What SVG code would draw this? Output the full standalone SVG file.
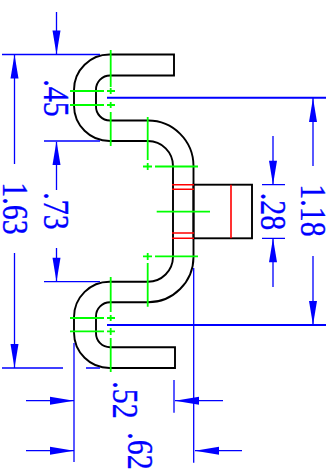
<svg xmlns="http://www.w3.org/2000/svg" width="336" height="470" viewBox="0 0 336 470">
<defs>
<style>
.k{fill:none;stroke:#000;stroke-width:1.9}
.g{fill:none;stroke:#00ff00;stroke-width:1.8}
.r{fill:none;stroke:#ff0000;stroke-width:1.6}
.b{fill:none;stroke:#0000ff;stroke-width:1.3}
.c{fill:none;stroke:#0000ff;stroke-width:2}
.a{fill:#0000ff;stroke:none}
.t{font-family:"Liberation Serif","Times New Roman",serif;font-size:30px;fill:#0000ff;stroke:#0000ff;stroke-width:.3;text-anchor:middle}
</style>
<polygon id="ah" class="a" points="0,0 -24,-4 -24,4"/>
</defs>
<g id="part">
<path class="k" d="M174 54.500H110A35.500 35.500 0 0 0 74 90V105.500A35.500 35.500 0 0 0 110 141H148A25 25 0 0 1 173 166V257A25 25 0 0 1 148 281.700H110A35.500 35.500 0 0 0 74 317V332.500A35.500 35.500 0 0 0 110 368H175V347.300H110A14 14 0 0 1 96 333.300V316.300A14 14 0 0 1 110 302.300H148A45.500 45.500 0 0 0 193.500 257V166A45.500 45.500 0 0 0 148 120.500H110A14 14 0 0 1 96 106V89.500A14 14 0 0 1 110 75.500H174Z"/>
<rect class="k" x="193.500" y="184.700" width="58.500" height="53.600"/>
</g>
<g id="bend-lines">
<path class="r" d="M231 184.700V238.300M172 184.700H194M172 189.300H194M172 233H194M172 238.300H194"/>
</g>
<g id="centerlines">
<path class="g" d="M110.700 50V87M110.700 88V94M110.700 102V108M110.700 112V146M70 91H104M107 91H115M70 105H104M107 105H115"/>
<path class="g" d="M147.700 117V160M147.700 163V170M143 166.500H152M155 166.500H198M156.700 211.700H210M143 256.300H152M155 256.300H198M147.700 253V260M147.700 263V306.700"/>
<path class="g" d="M110.700 277V312M110.700 315V321M110.700 328V335M110.700 338V372M70 318H104M107 318H115M70 331.300H104M107 331.300H115"/>
</g>
<g id="connectors">
<path class="c" d="M107 97.700H326M107 325H326"/>
<path class="b" d="M2 54.500H100M44 141H100M44 281.700H100M2 368H63M86 368H100"/>
<path class="b" d="M14.500 55V164M14.500 253V368M56.500 12V54M56.500 142V190M56.500 248V281M313 98V166M313 256V325M273 136V184M273 239V287M262 184.700H285M262 238.300H285"/>
<path class="b" d="M74 343V462M193.700 268V462.700M174 380V412.700M26 400.700H74M26 450.700H74M175 400.700H223M195 450.700H242"/>
<use href="#ah" transform="translate(14.500 54.500) rotate(-90)"/>
<use href="#ah" transform="translate(14.500 368) rotate(90)"/>
<use href="#ah" transform="translate(56.500 54.500) rotate(90)"/>
<use href="#ah" transform="translate(56.500 141) rotate(-90)"/>
<use href="#ah" transform="translate(56.500 281.700) rotate(90)"/>
<use href="#ah" transform="translate(313 98) rotate(-90)"/>
<use href="#ah" transform="translate(313 325) rotate(90)"/>
<use href="#ah" transform="translate(273 184.700) rotate(90)"/>
<use href="#ah" transform="translate(273 238.300) rotate(-90)"/>
<use href="#ah" transform="translate(74 400.700)"/>
<use href="#ah" transform="translate(74 450.700)"/>
<use href="#ah" transform="translate(175 400.700) rotate(180)"/>
<use href="#ah" transform="translate(195 450.700) rotate(180)"/>
</g>
<g id="labels">
<text class="t" transform="translate(2.500 208.500) rotate(90) scale(1 1.2)">1.63</text>
<text class="t" transform="translate(44 98) rotate(90) scale(1 1.2)">.45</text>
<text class="t" transform="translate(44 211) rotate(90) scale(1 1.2)">.73</text>
<text class="t" transform="translate(300.500 210.500) rotate(90) scale(1 1.2)">1.18</text>
<text class="t" transform="translate(260.500 211.500) rotate(90) scale(1 1.2)">.28</text>
<text class="t" transform="translate(112.500 400) rotate(90) scale(1 1.2)">.52</text>
<text class="t" transform="translate(127.500 451) rotate(90) scale(1 1.2)">.62</text>
</g>
</svg>
